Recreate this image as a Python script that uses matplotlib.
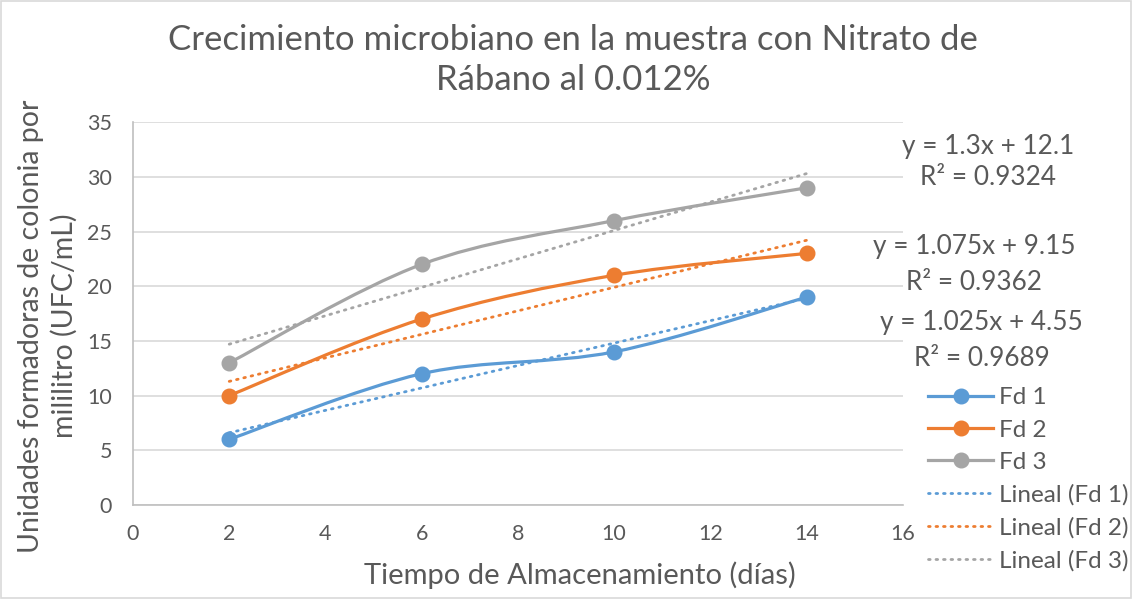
import numpy as np
import matplotlib.pyplot as plt
from matplotlib.path import Path
from matplotlib.patches import PathPatch, Rectangle
from matplotlib.lines import Line2D

plt.rcParams['font.family'] = ['Lato', 'DejaVu Sans']

# datos
dias = [2, 6, 10, 14]
fd1 = [6, 12, 14, 19]
fd2 = [10, 17, 21, 23]
fd3 = [13, 22, 26, 29]
nombres = ["Fd 1", "Fd 2", "Fd 3"]
colores = ["#5B9BD5", "#ED7D31", "#A5A5A5"]
TXT = "#595959"


def smooth_path(x, y):
    # curva suavizada tipo Excel (Bezier con tangentes Catmull-Rom)
    p = np.column_stack([x, y]).astype(float)
    ext = np.vstack([p[0], p, p[-1]])
    verts = [p[0]]
    codes = [Path.MOVETO]
    for i in range(len(p) - 1):
        c1 = ext[i + 1] + (ext[i + 2] - ext[i]) / 6.0
        c2 = ext[i + 2] - (ext[i + 3] - ext[i + 1]) / 6.0
        verts += [c1, c2, p[i + 1]]
        codes += [Path.CURVE4] * 3
    return Path(verts, codes)


fig = plt.figure(figsize=(11.32, 5.99), dpi=100)
ax = fig.add_axes([0.1175, 0.157, 0.68, 0.639])

handles = []
tlines = []
for ys, name, c in zip([fd1, fd2, fd3], nombres, colores):
    ax.add_patch(PathPatch(smooth_path(dias, ys), fill=False, edgecolor=c,
                           lw=2.3, capstyle='round', zorder=3))
    ax.plot(dias, ys, 'o', color=c, ms=10.5, zorder=4)
    m, b = np.polyfit(dias, ys, 1)
    xs = np.array([dias[0], dias[-1]])
    ax.plot(xs, m * xs + b, color=c, lw=2.0, linestyle=(0, (0.6, 2.1)),
            dash_capstyle='round', zorder=2)
    handles.append(Line2D([], [], color=c, lw=2.3, marker='o', ms=10.5))
    tlines.append(Line2D([], [], color=c, lw=2.0, linestyle=(0, (0.6, 2.1)),
                         dash_capstyle='round'))

ax.set_xlim(0, 16)
ax.set_ylim(0, 35)
ax.set_xticks(range(0, 17, 2))
ax.set_yticks(range(0, 36, 5))
ax.grid(axis='y', color='#D9D9D9', lw=1.2)
ax.set_axisbelow(True)
for s in ['top', 'right']:
    ax.spines[s].set_visible(False)
for s in ['left', 'bottom']:
    ax.spines[s].set_color('#BFBFBF')
    ax.spines[s].set_linewidth(1.2)
ax.tick_params(length=0, labelsize=15.5, colors=TXT)
ax.tick_params(axis='y', pad=15)
ax.tick_params(axis='x', pad=14)

ax.set_xlabel("Tiempo de Almacenamiento (días)", fontsize=21, color=TXT)
ax.xaxis.set_label_coords(0.58, -0.148)
ax.set_ylabel("Unidades formadoras de colonia por\nmililitro (UFC/mL)", fontsize=20.5,
              color=TXT, linespacing=1.3)
ax.yaxis.set_label_coords(-0.072, 0.467)

fig.text(0.506, 0.9, "Crecimiento microbiano en la muestra con Nitrato de\nRábano al 0.012%",
         ha='center', va='center', fontsize=25, color=TXT, linespacing=1.3)

# ecuaciones de tendencia
eqs = [("y = 1.3x + 12.1", 0.873, 0.756), ("R² = 0.9324", 0.873, 0.703),
       ("y = 1.075x + 9.15", 0.861, 0.588), ("R² = 0.9362", 0.860, 0.528),
       ("y = 1.025x + 4.55", 0.867, 0.461), ("R² = 0.9689", 0.867, 0.402)]
for t, x, y in eqs:
    fig.text(x, y, t, ha='center', va='center', fontsize=18.8, color=TXT)

leg_labels = nombres + ["Lineal (Fd 1)", "Lineal (Fd 2)", "Lineal (Fd 3)"]
fig.legend(handles + tlines, leg_labels, loc='upper left', bbox_to_anchor=(0.811, 0.37),
           frameon=False, fontsize=17.5, labelcolor=TXT, handlelength=2.7,
           handletextpad=0.25, labelspacing=0.47, borderaxespad=0)

fig.patches.append(Rectangle((0.001, 0.001), 0.998, 0.998, transform=fig.transFigure,
                             fill=False, edgecolor='#D9D9D9', lw=1.2))

fig.savefig("out.png", dpi=100)
